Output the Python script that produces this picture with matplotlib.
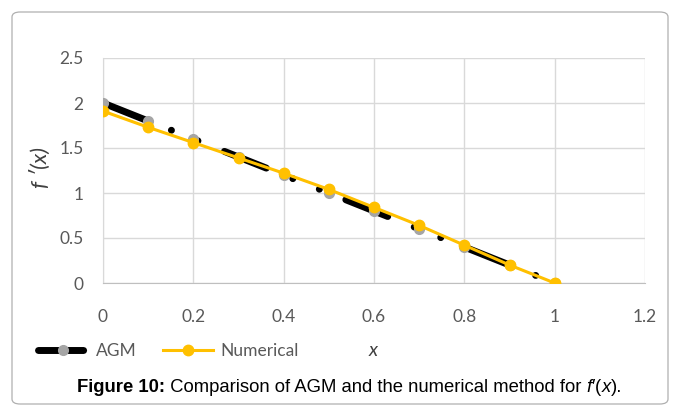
import matplotlib.pyplot as plt
from matplotlib.patches import FancyBboxPatch

# derivative values, AGM solution vs numerical method
x = [0, 0.1, 0.2, 0.3, 0.4, 0.5, 0.6, 0.7, 0.8, 0.9, 1.0]
agm = [2.0, 1.8, 1.6, 1.4, 1.2, 1.0, 0.8, 0.6, 0.4, 0.2, 0.0]
numerical = [1.91, 1.73, 1.56, 1.39, 1.22, 1.04, 0.84, 0.64, 0.42, 0.20, 0.0]

xticks = [0, 0.2, 0.4, 0.6, 0.8, 1, 1.2]
yticks = [0, 0.5, 1, 1.5, 2, 2.5]

plt.rcParams['font.family'] = ['Lato', 'DejaVu Sans']

W, H = 678, 416
fig = plt.figure(figsize=(W / 100, H / 100), dpi=100)

# rounded frame around chart + caption
frame = FancyBboxPatch((12 / W, 12 / H), 656 / W, 392 / H,
                       boxstyle='round,pad=0,rounding_size=0.012',
                       transform=fig.transFigure, fill=False,
                       edgecolor='#b0b0b0', linewidth=0.9)
fig.patches.append(frame)

ax = fig.add_axes([103 / W, 1 - 283 / H, 542 / W, 225 / H])

ax.plot(x, agm, color='black', linewidth=5, dash_capstyle='round',
        linestyle=(0, (6.5, 4.1, 0.01, 4.1, 0.01, 4.1)),
        marker='o', markersize=7, markerfacecolor='#a5a5a5',
        markeredgecolor='#a5a5a5', label='AGM', zorder=3)
ax.plot(x, numerical, color='#ffc000', linewidth=2.2,
        marker='o', markersize=7.5, markerfacecolor='#ffc000',
        markeredgecolor='#ffc000', label='Numerical', zorder=4)

ax.set_xlim(0, 1.2)
ax.set_ylim(0, 2.5)
ax.set_xticks(xticks)
ax.set_xticklabels([f'{v:g}' for v in xticks])
ax.set_yticks(yticks)
ax.set_yticklabels([f'{v:g}' for v in yticks])
ax.grid(True, color='#d9d9d9', linewidth=1)
ax.set_axisbelow(True)
for s in ['top', 'right']:
    ax.spines[s].set_visible(False)
ax.spines['left'].set_color('#d9d9d9')
ax.spines['bottom'].set_color('#bfbfbf')
ax.tick_params(length=0, labelsize=12.5, colors='#595959')
ax.tick_params(axis='x', pad=19)
ax.tick_params(axis='y', pad=14)

fig.text(40 / W, 1 - 168 / H, "f ′(x)", rotation=90, fontsize=16,
         style='italic', color='#404040', ha='center', va='center')
fig.text(373 / W, 1 - 350 / H, 'x', fontsize=14, style='italic',
         color='#404040', ha='center', va='center')

fig.legend(loc='center left', bbox_to_anchor=(22 / W, 1 - 351 / H),
           ncol=2, frameon=False, fontsize=12.5, handlelength=2.9,
           columnspacing=1.5, handletextpad=0.45, labelcolor='#595959')

# caption: bold label, then plain text with italic symbols, on one baseline
pieces = [('Figure 10:', 'normal', 'bold'),
          (' Comparison of AGM and the numerical method for ', 'normal', 'normal'),
          ('f′', 'italic', 'normal'), ('(', 'normal', 'normal'),
          ('x', 'italic', 'normal'), (').', 'normal', 'normal')]
renderer = fig.canvas.get_renderer()
xpos = 77 / W
for txt, st, wt in pieces:
    t = fig.text(xpos, 1 - 392 / H, txt, fontsize=13.3, family='Liberation Sans',
                 style=st, weight=wt, va='baseline', ha='left')
    bb = t.get_window_extent(renderer)
    xpos = bb.x1 / W

fig.savefig('out.png', dpi=100)
